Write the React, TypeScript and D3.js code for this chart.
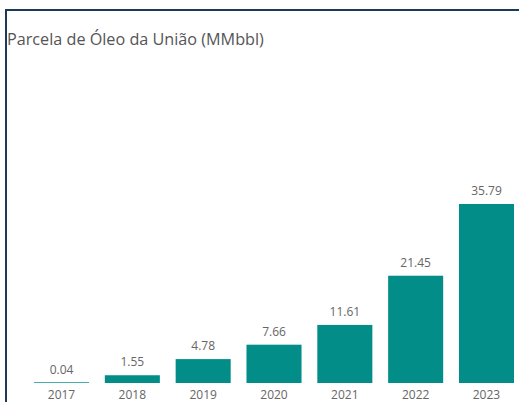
import React from "react";
import * as d3 from "d3";

const years = ["2017", "2018", "2019", "2020", "2021", "2022", "2023"];
const values = [0.04, 1.55, 4.78, 7.66, 11.61, 21.45, 35.79];
const labels = ["0.04", "1.55", "4.78", "7.66", "11.61", "21.45", "35.79"];

const W = 519;
const H = 402;
const FONT = "'Segoe UI', 'Open Sans', 'DejaVu Sans', sans-serif";

export default function App() {
  const x = d3
    .scaleBand<string>()
    .domain(years)
    .range([26.2, 521.8])
    .paddingInner(0.223)
    .paddingOuter(0.11);
  const y = d3.scaleLinear().domain([0, 35.79]).range([383, 204]);

  return (
    <svg
      width={W}
      height={H}
      style={{ position: "absolute", left: 0, top: 0, background: "#fff" }}
    >
      <line x1={5} x2={W} y1={10} y2={10} stroke="#1b3a57" strokeWidth={2} />
      <line x1={6} x2={6} y1={9} y2={H} stroke="#1b3a57" strokeWidth={2} />
      <text x={7} y={45} fontFamily={FONT} fontSize={16.2} fill="#555">
        Parcela de Óleo da União (MMbbl)
      </text>
      {years.map((yr, i) => {
        const top = y(values[i]);
        const h = Math.max(y(0) - top, 1);
        const bx = x(yr)!;
        return (
          <g key={yr}>
            <rect
              x={bx}
              y={y(0) - h}
              width={x.bandwidth()}
              height={h}
              fill={values[i] < 0.5 ? "#49aeab" : "#028d89"}
            />
            <text
              x={bx + x.bandwidth() / 2}
              y={top - 9}
              textAnchor="middle"
              fontFamily={FONT}
              fontSize={12}
              fill="#666"
            >
              {labels[i]}
            </text>
            <text
              x={bx + x.bandwidth() / 2}
              y={399}
              textAnchor="middle"
              fontFamily={FONT}
              fontSize={12}
              fill="#666"
            >
              {yr}
            </text>
          </g>
        );
      })}
    </svg>
  );
}
